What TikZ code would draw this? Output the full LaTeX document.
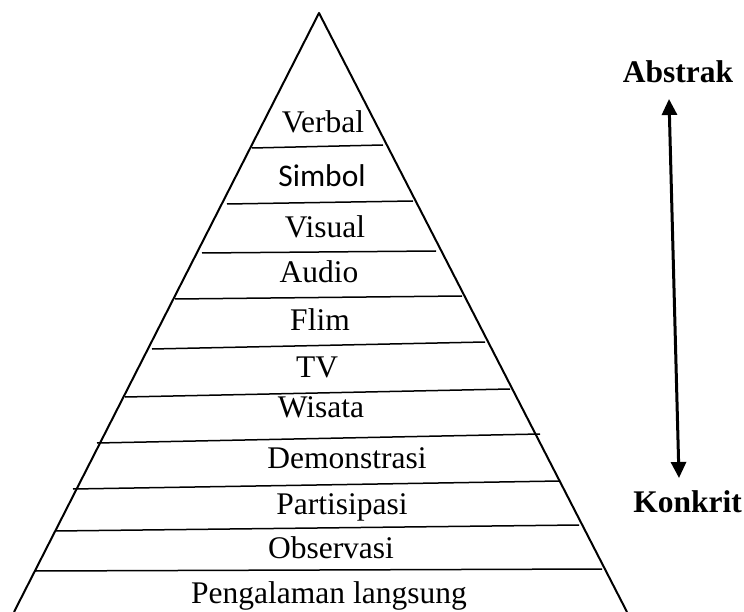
\documentclass[tikz,border=0pt]{standalone}
\usepackage{fontspec}
\setmainfont{Liberation Serif}
\newfontfamily\calfont{Carlito}
\usetikzlibrary{arrows.meta}

\tikzset{
  level/.style={anchor=base, inner sep=0pt, font=\fontsize{31.5}{36}\selectfont},
  pole/.style={anchor=base, inner sep=0pt, font=\fontsize{31.5}{36}\selectfont\bfseries},
  side/.style={line width=2pt, line join=round},
  divider/.style={line width=1.5pt},
  scale arrow/.style={line width=3pt, {Triangle[length=16pt,width=15pt]}-{Triangle[length=16pt,width=15pt]}}
}

\begin{document}
\begin{tikzpicture}[x=1pt,y=-1pt]
  \useasboundingbox (0,0) rectangle (744,612);

  % outline of the pyramid
  \coordinate (apex) at (319,13);
  \coordinate (bl) at (14,612);
  \coordinate (br) at (627,612);
  \draw[side] (bl) -- (apex) -- (br);

  % dividing lines between the levels
  \draw[divider] (252,148) -- (383,145);
  \draw[divider] (227,204) -- (413,201);
  \draw[divider] (202,253) -- (436,251);
  \draw[divider] (175,299) -- (462,296);
  \draw[divider] (152,349) -- (485,342);
  \draw[divider] (125,397) -- (510,389);
  \draw[divider] (97,443) -- (540,434);
  \draw[divider] (73,489) -- (560,481);
  \draw[divider] (55,531) -- (579,525);
  \draw[divider] (35,571) -- (602,569);

  % level labels
  \node[level] (verbal) at (323,133) {Verbal};
  \node[level] (simbol) at (322,187) {\calfont Simbol};
  \node[level] (visual) at (325,238) {Visual};
  \node[level] (audio)  at (319,283) {Audio};
  \node[level] (flim)   at (320,330) {Flim};
  \node[level] (tv)     at (317,377) {TV};
  \node[level] (wisata) at (321,417) {Wisata};
  \node[level] (demo)   at (347,468) {Demonstrasi};
  \node[level] (parti)  at (342,514) {Partisipasi};
  \node[level] (obs)    at (331,558) {Observasi};
  \node[level] (peng)   at (329,603) {Pengalaman langsung};

  % abstract / concrete scale
  \node[pole] (abstrak) at (678,83) {Abstrak};
  \node[pole] (konkrit) at (687.5,512) {Konkrit};
  \coordinate (top) at (669,99);
  \coordinate (bottom) at (679,478);
  \draw[scale arrow] (top) -- (bottom);
\end{tikzpicture}
\end{document}
